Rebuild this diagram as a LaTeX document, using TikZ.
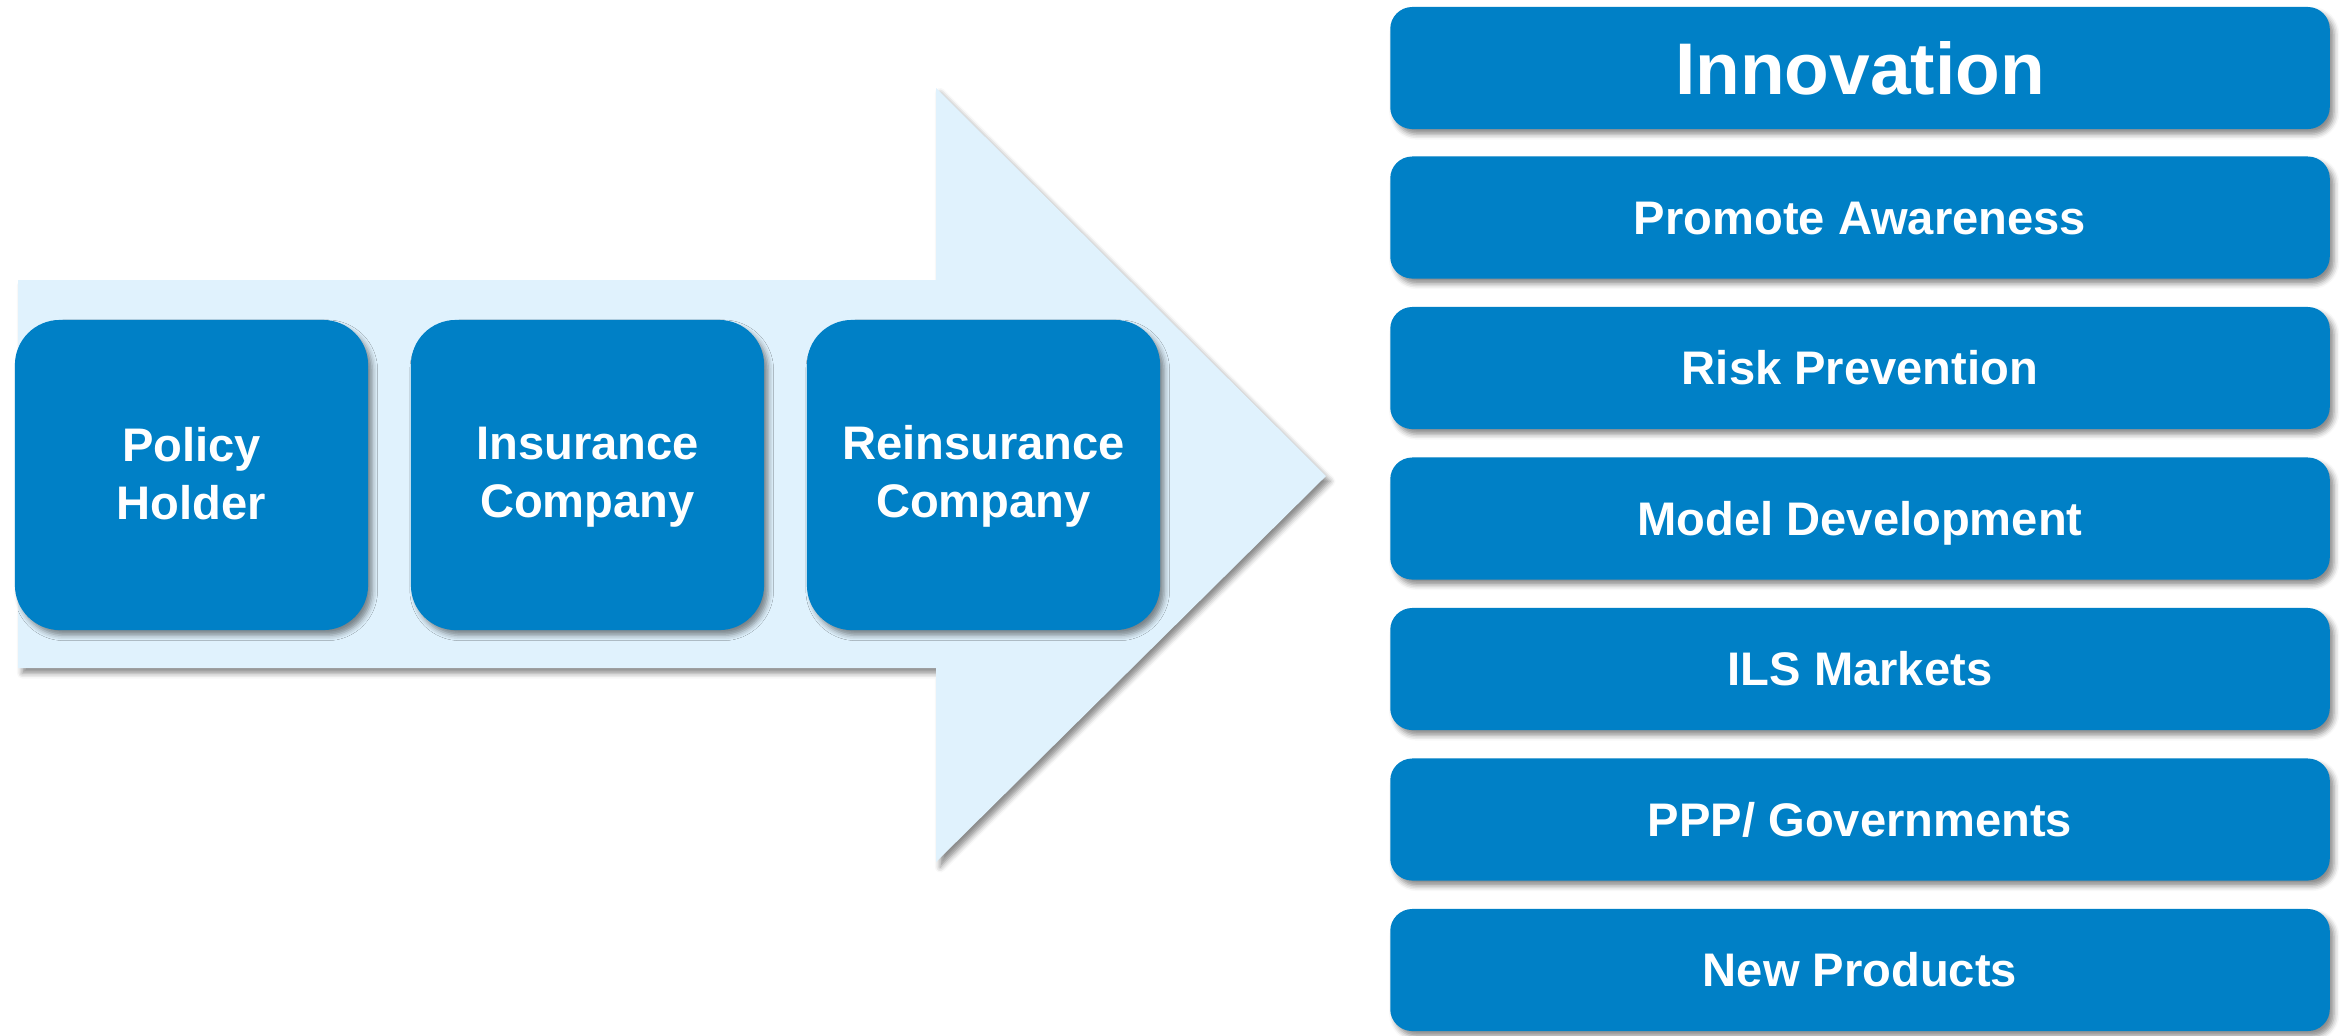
\documentclass[tikz,border=0pt]{standalone}
\usepackage{fontspec}
\setmainfont{Liberation Sans}
\usepackage{xcolor}
\usepackage{tikz}
\usetikzlibrary{shadows.blur}
\definecolor{boxblue}{RGB}{0,128,198}
\definecolor{arrowblue}{RGB}{224,242,253}
% same height for every line in the party boxes
\newcommand{\partystrut}{\rule[-1.7pt]{0pt}{12pt}}

\begin{document}
\begin{tikzpicture}[x=0.01cm, y=-0.01cm,
		soft shadow/.style={blur shadow={shadow xshift=1.2pt, shadow yshift=-1.5pt, shadow blur radius=1.5pt, shadow opacity=45}},
		party/.style={soft shadow, fill=boxblue, text=white, align=center,
			font=\fontsize{13.4}{16.5}\selectfont\bfseries,
			rounded corners=0.45cm, minimum width=3.53cm, minimum height=3.1cm, inner sep=0pt},
		topic/.style={soft shadow, fill=boxblue, text=white,
			font=\fontsize{13.4}{16}\selectfont\bfseries, text height=9.6pt, text depth=0pt,
			rounded corners=0.22cm, minimum width=9.39cm, minimum height=1.22cm, inner sep=0pt}]
		\useasboundingbox (0,0) rectangle (2352,1035);
		
		% Draw the big arrow behind the three parties
		\path[fill=arrowblue, soft shadow] (18,280) -- (936,280) -- (936,88) -- (1326,476)
			-- (936,862) -- (936,668) -- (18,668) -- cycle;
		
		% Three parties along the arrow
		\node[party] (holder) at (191.5,475) {\partystrut Policy\\\partystrut Holder};
		\node[party] (insurer) at (587.5,475) {\partystrut Insurance\\\partystrut Company};
		\node[party] (reinsurer) at (983.5,475) {\partystrut Reinsurance\\\partystrut Company};
		
		% Column of topics on the right
		\node[topic, font=\fontsize{20.8}{24}\selectfont\bfseries, text height=14.9pt] (innov) at (1860,68) {Innovation};
		\node[topic] (aware) at (1860,217.5) {Promote Awareness};
		\node[topic] (risk) at (1860,368) {Risk Prevention};
		\node[topic] (model) at (1860,518.5) {Model Development};
		\node[topic] (ils) at (1860,669) {ILS Markets};
		\node[topic] (ppp) at (1860,819.5) {PPP/ Governments};
		\node[topic] (products) at (1860,970) {New Products};
	\end{tikzpicture}
\end{document}
